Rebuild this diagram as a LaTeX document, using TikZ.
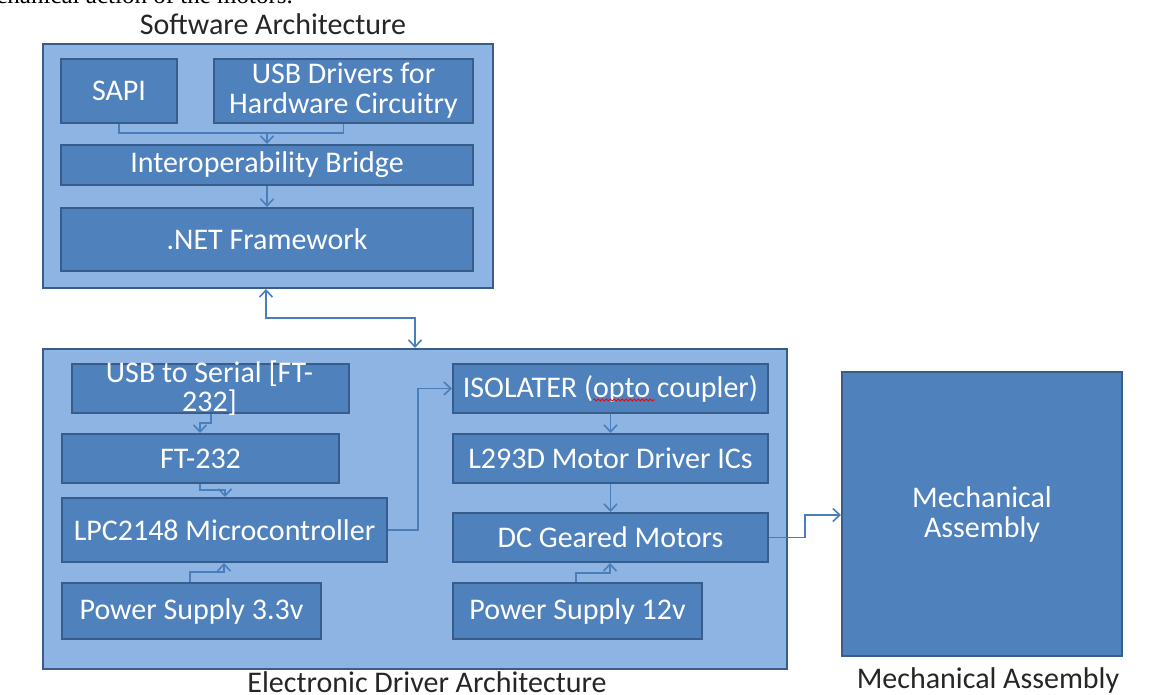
\documentclass[tikz,border=0pt]{standalone}
\usepackage{fontspec}
\setmainfont{Carlito}
\newfontfamily\timesfont{Liberation Serif}
\usetikzlibrary{arrows.meta,decorations.pathmorphing}
\definecolor{outerfill}{HTML}{8EB4E3}
\definecolor{innerfill}{HTML}{4F81BD}
\definecolor{bordc}{HTML}{385D8A}
\definecolor{linec}{HTML}{4A7EBB}
\definecolor{titlec}{HTML}{262626}
\tikzset{
  outerbox/.style={draw=bordc, line width=2pt, fill=outerfill, anchor=north west, inner sep=0pt},
  blk/.style={draw=bordc, line width=2pt, fill=innerfill, anchor=north west, inner sep=0pt,
    text=white, font=\fontsize{30}{30}\selectfont, align=center},
  txt/.style={text=white, font=\fontsize{30}{29}\selectfont, align=center, inner sep=0pt},
  ttl/.style={text=titlec, font=\fontsize{30}{30}\selectfont, inner sep=0pt},
  wire/.style={draw=linec, line width=1.6pt},
  conn/.style={wire, -{Straight Barb[length=7pt,width=13pt]}},
  biconn/.style={wire, {Straight Barb[length=7pt,width=13pt]}-{Straight Barb[length=7pt,width=13pt]}}
}
\begin{document}
\begin{tikzpicture}[x=1pt,y=-1pt]
\useasboundingbox (0,0) rectangle (1155,695);
\begin{scope}
\clip (0,0) rectangle (1155,695);
\node[anchor=base east, inner sep=0pt, font=\timesfont\fontsize{25}{28}\selectfont] (topline) at (293,4) {mechanical action of the motors.};
\end{scope}

% titles
\node[ttl] (swt) at (273,24) {Software Architecture};
\node[ttl, anchor=base, text height=20pt, text depth=0pt] (elt) at (427,692) {Electronic Driver Architecture};
\node[ttl] (mat) at (988,680) {Mechanical Assembly};

% software architecture
\node[outerbox, minimum width=450pt, minimum height=244pt] (sw) at (42,43) {};
\node[blk, minimum width=116pt, minimum height=64pt] (sapi) at (60,58) {SAPI};
\node[blk, minimum width=259pt, minimum height=64pt] (usbd) at (213,58) {USB Drivers for\\Hardware Circuitry};
\node[blk, minimum width=412pt, minimum height=40pt] (interop) at (60,144) {Interoperability Bridge};
\node[blk, minimum width=412pt, minimum height=63pt] (net) at (60,207) {.NET Framework};

% electronic driver architecture
\node[outerbox, minimum width=744pt, minimum height=320pt] (el) at (42,348) {};
\node[blk, minimum width=277pt, minimum height=49pt] (usbs) at (71,363) {};
\node[txt] (usbstxt) at (209.5,388) {USB to Serial [FT-\\232]};
\node[blk, minimum width=277pt, minimum height=49pt] (ft) at (61,433) {FT-232};
\node[blk, minimum width=325pt, minimum height=64pt] (lpc) at (61,497) {LPC2148 Microcontroller};
\node[blk, minimum width=259pt, minimum height=56pt] (ps3) at (61,582) {Power Supply 3.3v};
\node[blk, minimum width=315pt, minimum height=49pt] (iso) at (452,363) {ISOLATER (opto coupler)};
\node[blk, minimum width=315pt, minimum height=49pt] (l293) at (452,433) {L293D Motor Driver ICs};
\node[blk, minimum width=315pt, minimum height=49pt] (dc) at (452,512) {DC Geared Motors};
\node[blk, minimum width=249pt, minimum height=56pt] (ps12) at (452,582) {Power Supply 12v};

% mechanical assembly
\node[blk, minimum width=280pt, minimum height=284pt] (mech) at (841,371) {Mechanical\\Assembly};

% spell-check squiggle under "opto"
\draw[red, line width=0.8pt, decorate, decoration={snake, amplitude=1pt, segment length=4pt}] (593,400) -- (655,400);

% software connectors
\coordinate (j1) at (267,133);
\draw[wire] (sapi.south) |- (j1) -| (usbd.south);
\draw[conn] (j1) -- (j1 |- interop.north);
\draw[conn] (interop.south) -- (net.north);

% software <-> electronic
\coordinate (b1) at (266,318);
\coordinate (b2) at (415,318);
\draw[biconn] (b1 |- sw.south) -- (b1) -- (b2) -- (b2 |- el.north);

% electronic left column
\coordinate (u1) at (211,423);
\coordinate (u2) at (200,423);
\draw[conn] (u1 |- usbs.south) -- (u1) -- (u2) -- (u2 |- ft.north);
\coordinate (f1) at (200,490);
\coordinate (f2) at (225,490);
\draw[conn] (f1 |- ft.south) -- (f1) -- (f2) -- (f2 |- lpc.north);
\coordinate (p1) at (190,572);
\coordinate (p2) at (224,572);
\draw[conn] (p1 |- ps3.north) -- (p1) -- (p2) -- (p2 |- lpc.south);

% lpc -> isolater
\coordinate (k1) at (418,400);
\draw[conn] (lpc.east) -| (k1 |- iso.west) -- (iso.west);

% right column
\draw[conn] (iso.south) -- (l293.north);
\draw[conn] (l293.south) -- (dc.north);
\coordinate (q1) at (576,573);
\coordinate (q2) at (610,573);
\draw[conn] (q1 |- ps12.north) -- (q1) -- (q2) -- (q2 |- dc.south);

% dc -> mechanical
\coordinate (m1) at (805,515);
\draw[conn] (dc.east) -| (m1) -- (m1 -| mech.west);
\end{tikzpicture}
\end{document}
